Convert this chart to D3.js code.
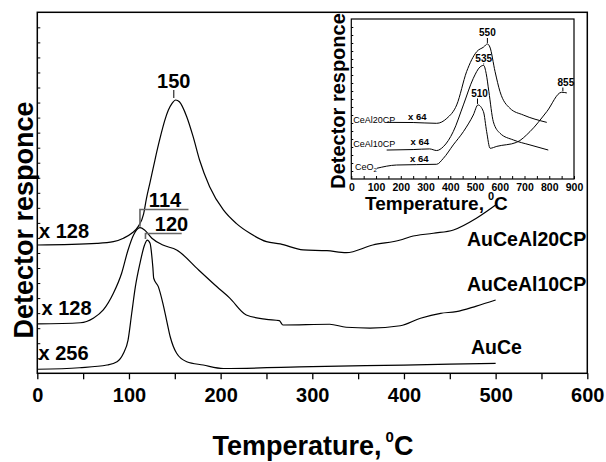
<!DOCTYPE html>
<html>
<head>
<meta charset="utf-8">
<script src="https://cdn.jsdelivr.net/npm/d3@7"></script>
<style>
body { margin: 0; background: #fff; }
text { font-family: "Liberation Sans", Arial, Helvetica, sans-serif; }
</style>
</head>
<body>
<div id="chart"></div>
<script>
// main panel: [temperature C, detector response (a.u.)]
var auCeAl20 = [[0,8.53],[65,8.64],[83,8.75],[94,8.98],[103,9.31],[110,9.75],[116,10.6],[119,11.6],[123,12.7],
    [127,13.8],[131,14.9],[135,15.9],[139,16.8],[143,17.5],[147,17.95],[151,18.17],[155,18.05],[163,17.06],
    [170,15.73],[177,14.18],[188,12.41],[203,10.86],[217,9.97],[232,9.31],[250,8.75],[265,8.6],[290,8.2],
    [316,8.15],[337,8.02],[366,8.53],[396,8.86],[407,9.08],[432,9.31],[454,9.53],[479,10.31],[500,11.19]];
var auCeAl10 = [[0,3.28],[47,3.36],[61,3.66],[72,4.21],[83,5.32],[92,6.65],[99,8.2],[105,9.2],[112,9.68],
    [117,9.53],[125,8.98],[137,8.53],[152,8.2],[176,6.87],[196,5.75],[210,5.0],[228,3.88],[250,3.59],
    [264,3.5],[268,3.21],[319,3.26],[337,3.06],[363,3.01],[396,3.16],[418,3.66],[440,3.99],[457,4.1],
    [479,4.47],[500,4.87]];
var auCe = [[0,0.27],[46,0.37],[76,0.55],[87,0.77],[94,1.33],[99,2.21],[103,3.99],[107,5.76],[112,7.31],
    [117,8.53],[120,8.86],[123,8.64],[126,7.09],[127,6.32],[132,5.76],[137,4.65],[141,3.54],[145,2.43],
    [152,1.33],[163,0.77],[181,0.55],[203,0.32],[300,0.44],[400,0.55],[500,0.66]];

// inset panel
var ceAl20 = [[143,3.54],[250,3.53],[345,3.48],[386,3.79],[426,4.63],[466,6.71],[507,7.96],[535,8.25],
    [550,8.44],[560,8.25],[581,6.71],[601,5.46],[641,4.42],[695,4.0],[790,3.54]];
var ceAl10 = [[143,1.81],[250,1.84],[316,1.88],[345,1.78],[372,2.02],[412,2.96],[453,4.63],[493,6.29],
    [520,7.0],[535,7.1],[545,6.6],[556,5.46],[574,3.58],[601,2.86],[655,2.44],[722,2.13],[796,1.81]];
var ceO2 = [[103,0.67],[183,0.875],[345,0.92],[372,1.29],[412,2.13],[453,2.96],[493,4.0],[512,4.63],
    [534,4.21],[547,2.96],[561,1.92],[588,2.04],[668,2.29],[722,2.96],[790,4.21],[850,5.42],[871,5.38]];

var mainXTicks = [0, 100, 200, 300, 400, 500, 600];
var insetXTicks = [0, 100, 200, 300, 400, 500, 600, 700, 800, 900];
var mainNames = ["AuCeAl20CP", "AuCeAl10CP", "AuCe"];
var mainFactors = ["x 128", "x 128", "x 256"];
var mainPeaks = [[150, 18.17], [114, 9.68], [120, 8.86]];
var insetPeaks = [[550, 8.44], [535, 7.1], [510, 4.63], [855, 5.42]];
var insetFactors = ["x 64", "x 64", "x 64"];

var W = 606, H = 462;
var svg = d3.select("#chart").append("svg")
    .attr("width", W)
    .attr("height", H);

var x = d3.scaleLinear().domain([0, 600]).range([37.3, 587.3]);
var y = d3.scaleLinear().domain([0, 24]).range([373.3, 12.3]);
var ix = d3.scaleLinear().domain([0, 900]).range([351.3, 574]);
var iy = d3.scaleLinear().domain([0, 10]).range([179, 19]);

var line = d3.line()
    .x(function (d) { return x(d[0]); })
    .y(function (d) { return y(d[1]); })
    .curve(d3.curveMonotoneX);
var iline = d3.line()
    .x(function (d) { return ix(d[0]); })
    .y(function (d) { return iy(d[1]); })
    .curve(d3.curveMonotoneX);

// main axes
var xAxis = svg.append("g")
    .attr("transform", "translate(0," + y(0) + ")")
    .call(d3.axisBottom(x).tickValues(d3.range(0, 601, 50)).tickSize(6).tickPadding(9)
        .tickFormat(function (d) { return mainXTicks.indexOf(d) >= 0 ? d : ""; }));
xAxis.select(".domain").remove();
xAxis.selectAll("line").attr("stroke", "#000").attr("stroke-width", 1.3);
xAxis.selectAll("text").attr("font-size", 20).attr("font-weight", "bold").attr("fill", "#000")
    .style("font-family", "Liberation Sans, Arial, sans-serif");

var yAxis = svg.append("g")
    .attr("transform", "translate(" + x(0) + ",0)")
    .call(d3.axisLeft(y).tickValues(d3.range(1, 24)).tickSize(-3).tickFormat(""));
yAxis.select(".domain").remove();
yAxis.selectAll("line").attr("stroke", "#000");

svg.append("rect")
    .attr("x", x(0)).attr("y", y(24))
    .attr("width", x(600) - x(0)).attr("height", y(0) - y(24))
    .attr("fill", "none").attr("stroke", "#000").attr("stroke-width", 1.5);

// inset axes
var ixAxis = svg.append("g")
    .attr("transform", "translate(0," + iy(0) + ")")
    .call(d3.axisBottom(ix).tickValues(d3.range(0, 901, 50)).tickSize(-3).tickPadding(5)
        .tickFormat(function (d) { return insetXTicks.indexOf(d) >= 0 ? d : ""; }));
ixAxis.select(".domain").remove();
ixAxis.selectAll("line").attr("stroke", "#000");
ixAxis.selectAll("text").attr("font-size", 10.5).attr("font-weight", "bold").attr("fill", "#000")
    .style("font-family", "Liberation Sans, Arial, sans-serif");

var iyAxis = svg.append("g")
    .attr("transform", "translate(" + ix(0) + ",0)")
    .call(d3.axisLeft(iy).tickValues(d3.range(0.5, 10, 0.5)).tickSize(-2).tickFormat(""));
iyAxis.select(".domain").remove();
iyAxis.selectAll("line").attr("stroke", "#000");

svg.append("rect")
    .attr("x", ix(0)).attr("y", iy(10))
    .attr("width", ix(900) - ix(0)).attr("height", iy(0) - iy(10))
    .attr("fill", "none").attr("stroke", "#000").attr("stroke-width", 1.2);

// curves
[auCeAl20, auCeAl10, auCe].forEach(function (s) {
    svg.append("path")
        .attr("d", line(s))
        .attr("fill", "none")
        .attr("stroke", "#000")
        .attr("stroke-width", 1.2);
});
[ceAl20, ceAl10, ceO2].forEach(function (s) {
    svg.append("path")
        .attr("d", iline(s))
        .attr("fill", "none")
        .attr("stroke", "#000")
        .attr("stroke-width", 1);
});

function label(px, py, txt, size, weight, anchor) {
    return svg.append("text")
        .attr("x", px).attr("y", py)
        .attr("font-size", size)
        .attr("font-weight", weight || "bold")
        .attr("text-anchor", anchor || "start")
        .text(txt);
}

// axis titles
var xt = label(313, 455, "Temperature,", 27, "bold", "middle");
xt.append("tspan").attr("dx", 4).attr("dy", -13).attr("font-size", 15).text("0");
xt.append("tspan").attr("dy", 13).text("C");

label(0, 0, "Detector responce", 27, "bold", "middle")
    .attr("transform", "translate(33,220) rotate(-90)");

var ixt = label(365, 210, "Temperature,", 19, "bold", "start");
ixt.append("tspan").attr("dx", 4).attr("dy", -10).attr("font-size", 11).text("0");
ixt.append("tspan").attr("dy", 10).text("C");

label(0, 0, "Detector responce", 20, "bold", "middle")
    .attr("transform", "translate(345,101) rotate(-90)");

// series names and factors, main
var nameX = [467, 467, 471], nameY = [246, 291, 354];
mainNames.forEach(function (n, i) { label(nameX[i], nameY[i], n, 19.5); });
var facX = [39, 41.5, 38.5], facY = [238, 315, 360];
mainFactors.forEach(function (n, i) { label(facX[i], facY[i], n, 20); });

// main peak markers
label(x(mainPeaks[0][0]) - 1, 88, String(mainPeaks[0][0]), 20, "bold", "middle");
svg.append("line")
    .attr("x1", x(mainPeaks[0][0]) - 1).attr("x2", x(mainPeaks[0][0]) - 1)
    .attr("y1", 90).attr("y2", y(mainPeaks[0][1]) - 2)
    .attr("stroke", "#000").attr("stroke-width", 1);

label(165, 207, String(mainPeaks[1][0]), 20, "bold", "middle");
svg.append("polyline")
    .attr("points", [[x(188.5 / 0.9167 - 40.7), 209.5], [x(mainPeaks[1][0] - 2), 209.5], [x(mainPeaks[1][0] - 2), y(mainPeaks[1][1]) - 1]].join(" "))
    .attr("fill", "none").attr("stroke", "#666").attr("stroke-width", 1.6);

label(171.5, 231, String(mainPeaks[2][0]), 20, "bold", "middle");
svg.append("polyline")
    .attr("points", [[181.7, 233.5], [x(mainPeaks[2][0] - 2), 233.5], [x(mainPeaks[2][0] - 2), y(mainPeaks[2][1]) - 1]].join(" "))
    .attr("fill", "none").attr("stroke", "#666").attr("stroke-width", 1.6);

// inset names and factors
var inX = [353.3, 353.3, 355], inY = [123, 146.5, 170];
label(inX[0], inY[0], "CeAl20CP", 9, "normal");
label(inX[1], inY[1], "CeAl10CP", 9, "normal");
var ce = label(inX[2], inY[2], "CeO", 9, "normal");
ce.append("tspan").attr("dy", 2).attr("font-size", 6).text("2");
var ifX = [408, 410.5, 410], ifY = [120, 145, 162];
insetFactors.forEach(function (n, i) { label(ifX[i], ifY[i], n, 9.5); });

// inset peak markers
var ipY = [36, 61.5, 96.5, 85.5], ipDx = [0, 0, 2, 3];
insetPeaks.forEach(function (p, i) {
    var px = ix(p[0]);
    label(px + ipDx[i], ipY[i], String(p[0]), 10, "bold", "middle");
    svg.append("line")
        .attr("x1", px).attr("x2", px)
        .attr("y1", ipY[i] + 2).attr("y2", iy(p[1]) - 1)
        .attr("stroke", "#000").attr("stroke-width", 1);
});
</script>
</body>
</html>
